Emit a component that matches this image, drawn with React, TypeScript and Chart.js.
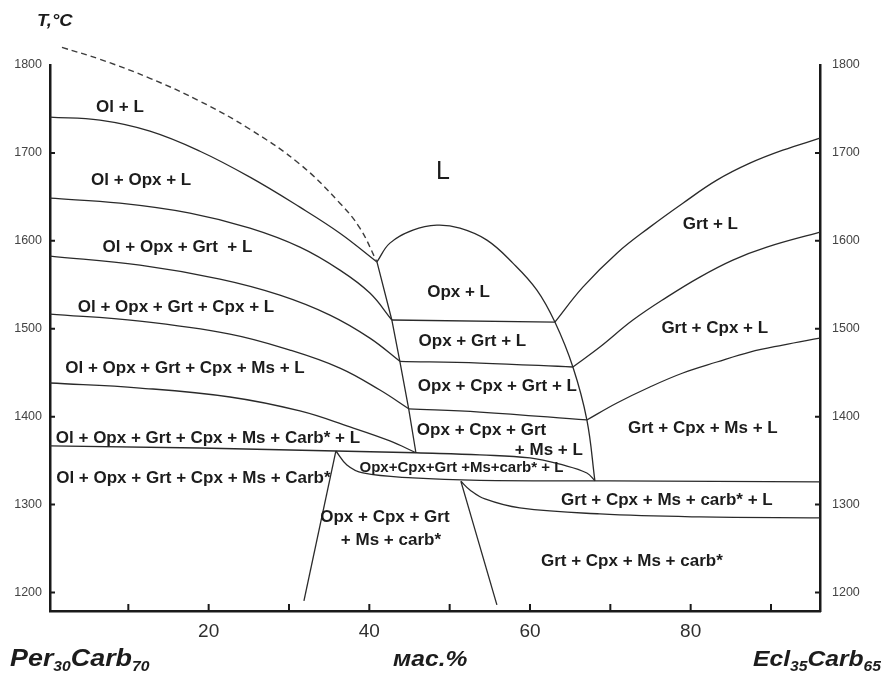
import { useEffect, useRef } from "react";
import { Chart, registerables } from "chart.js";

Chart.register(...registerables);

// Each point is [composition, wt.%; temperature, °C]
type XT = [number, number];

// ---- axes ----
const X_RANGE: XT = [0.25, 96.1];
const T_RANGE: XT = [1179, 1800];
const X_TICKS = [10, 20, 30, 40, 50, 60, 70, 80, 90];
const X_TICK_LABELS = [20, 40, 60, 80];
const T_TICKS = [1200, 1300, 1400, 1500, 1600, 1700, 1800];

// ---- phase boundaries ----
// metastable extension of the olivine liquidus
const olLiquidusMetastable: XT[] = [
  [1.74, 1820], [6.47, 1806.5], [12.69, 1784.9], [18.92, 1758.8], [25.14, 1726.9],
  [31.36, 1687.2], [36.34, 1642.8], [38.83, 1614.4], [40.95, 1576],
];
const olLiquidus: XT[] = [
  [0.25, 1740.6], [6.47, 1737.2], [12.69, 1724.7], [18.92, 1701.9], [25.14, 1672.4],
  [31.36, 1638.3], [36.34, 1608.7], [40.95, 1576],
];
const opxInLeft: XT[] = [
  [0.25, 1648.5], [8.96, 1642.8], [17.67, 1631.5], [25.14, 1614.4], [31.36, 1592.8],
  [36.34, 1566.7], [40.07, 1540.6], [42.8, 1510],
];
const grtInLeft: XT[] = [
  [0.25, 1582.6], [11.45, 1572.4], [21.41, 1556.5], [28.87, 1538.3], [35.1, 1515.6],
  [40.07, 1489.4], [43.8, 1463],
];
const cpxInLeft: XT[] = [
  [0.25, 1516.7], [11.45, 1508.7], [22.65, 1494], [30.12, 1475.8], [36.34, 1455.3],
  [41.32, 1430.3], [44.9, 1409],
];
const msInLeft: XT[] = [
  [0.25, 1438.3], [11.45, 1432.6], [22.65, 1422.4], [31.36, 1406.5], [37.59, 1388.3],
  [42.56, 1372.4], [45.8, 1359],
];
const carbInLeft: XT[] = [
  [0.25, 1366.7], [18.92, 1364.4], [35.84, 1361], [45.8, 1359],
];
const olOut: XT[] = [
  [40.95, 1576], [42.8, 1510], [43.8, 1463], [44.9, 1409], [45.8, 1359],
];
const opxLiquidus: XT[] = [
  [40.95, 1576], [42.56, 1597.4], [45.43, 1612.2], [48.41, 1617.8], [51.28, 1614.4],
  [54.64, 1600.8], [57.87, 1574.7], [60.86, 1544], [63.1, 1507.6], [65.34, 1456.5],
  [67.08, 1396.3], [68.08, 1327],
];
const grtInOpx: XT[] = [[42.8, 1510], [63.1, 1507.6]];
const cpxInOpx: XT[] = [[43.8, 1463], [53.77, 1461], [65.34, 1456.5]];
const msInOpx: XT[] = [[44.9, 1409], [53.77, 1405.3], [67.08, 1396.3]];
const carbInOpx: XT[] = [
  [45.8, 1359], [53.77, 1356.5], [59.99, 1353.1], [64.09, 1345.1], [67.08, 1336], [68.08, 1327],
];
const solidus: XT[] = [
  [35.84, 1361], [37.21, 1345.1], [39.2, 1336], [45.43, 1330.3], [53.77, 1327.5],
  [69.94, 1326.9], [96.08, 1325.8],
];
const olOutSubsolidus: XT[] = [[31.86, 1190.6], [35.84, 1361]];
const opxOutSubsolidus: XT[] = [[51.4, 1326.5], [55.88, 1186]];
const carbSolidusRight: XT[] = [
  [51.4, 1326.5], [52.52, 1316.7], [54.39, 1306.5], [58.74, 1296.3], [68.7, 1289.4],
  [81.14, 1286], [96.08, 1284.9],
];
const grtLiquidus: XT[] = [
  [63.1, 1507.6], [66.58, 1547.4], [70.82, 1586], [74.92, 1615.6], [79.03, 1642.8],
  [83.26, 1669], [87.37, 1688.3], [91.47, 1703.1], [96.08, 1716.7],
];
const cpxInRight: XT[] = [
  [65.34, 1456.5], [68.7, 1479.2], [72.81, 1509.9], [77.04, 1536], [81.14, 1558.8],
  [85.25, 1578.1], [89.48, 1592.8], [96.08, 1609.9],
];
const msInRight: XT[] = [
  [67.08, 1396.3], [70.82, 1415.6], [74.92, 1433.8], [79.03, 1449.7], [83.26, 1462.2],
  [87.37, 1473.5], [91.47, 1481.5], [96.08, 1489.4],
];

const BOUNDARIES: { pts: XT[]; dashed?: boolean; curved?: boolean }[] = [
  { pts: olLiquidusMetastable, dashed: true, curved: true },
  { pts: olLiquidus, curved: true },
  { pts: opxInLeft, curved: true },
  { pts: grtInLeft, curved: true },
  { pts: cpxInLeft, curved: true },
  { pts: msInLeft, curved: true },
  { pts: carbInLeft },
  { pts: olOut },
  { pts: opxLiquidus, curved: true },
  { pts: grtInOpx },
  { pts: cpxInOpx, curved: true },
  { pts: msInOpx, curved: true },
  { pts: carbInOpx, curved: true },
  { pts: solidus, curved: true },
  { pts: olOutSubsolidus },
  { pts: opxOutSubsolidus },
  { pts: carbSolidusRight, curved: true },
  { pts: grtLiquidus, curved: true },
  { pts: cpxInRight, curved: true },
  { pts: msInRight, curved: true },
];

// ---- phase-field names, placed at [wt.%, °C] ----
type FieldKind = "field" | "melt" | "narrow";
const FIELD_LABELS: { text: string; x: number; t: number; kind: FieldKind }[] = [
  { text: "Ol + L", x: 8.96, t: 1752, kind: "field" },
  { text: "L", x: 49.16, t: 1678, kind: "melt" },
  { text: "Ol + Opx + L", x: 11.6, t: 1669, kind: "field" },
  { text: "Ol + Opx + Grt  + L", x: 16.12, t: 1593.2, kind: "field" },
  { text: "Grt + L", x: 82.45, t: 1619, kind: "field" },
  { text: "Ol + Opx + Grt + Cpx + L", x: 15.93, t: 1524.7, kind: "field" },
  { text: "Opx + L", x: 51.11, t: 1542, kind: "field" },
  { text: "Grt + Cpx + L", x: 83.0, t: 1500.5, kind: "field" },
  { text: "Opx + Grt + L", x: 52.83, t: 1485.2, kind: "field" },
  { text: "Ol + Opx + Grt + Cpx + Ms + L", x: 17.05, t: 1455.3, kind: "field" },
  { text: "Opx + Cpx + Grt + L", x: 55.94, t: 1434.1, kind: "field" },
  { text: "Grt + Cpx + Ms + L", x: 81.52, t: 1387.2, kind: "field" },
  { text: "Opx + Cpx + Grt", x: 53.97, t: 1384.9, kind: "field" },
  { text: "+ Ms + L", x: 62.35, t: 1362.2, kind: "field" },
  { text: "Ol + Opx + Grt + Cpx + Ms + Carb* + L", x: 19.91, t: 1375.5, kind: "field" },
  { text: "Ol + Opx + Grt + Cpx + Ms + Carb*", x: 18.1, t: 1330, kind: "field" },
  { text: "Opx+Cpx+Grt +Ms+carb* + L", x: 51.46, t: 1341.4, kind: "narrow" },
  { text: "Grt + Cpx + Ms + carb* + L", x: 77.04, t: 1305.3, kind: "field" },
  { text: "Opx + Cpx + Grt", x: 41.94, t: 1286, kind: "field" },
  { text: "+ Ms + carb*", x: 42.69, t: 1259.9, kind: "field" },
  { text: "Grt + Cpx + Ms + carb*", x: 72.68, t: 1235.2, kind: "field" },
];

// ---- end-member and axis captions ([text, subscript] runs) ----
const LEFT_END_MEMBER: [string, boolean][] = [["Per", false], ["30", true], ["Carb", false], ["70", true]];
const RIGHT_END_MEMBER: [string, boolean][] = [["Ecl", false], ["35", true], ["Carb", false], ["65", true]];
const X_TITLE = "мас.%";
const T_TITLE = "T,°C";

const FAMILY = '"Liberation Sans", Arial, Helvetica, sans-serif';
const INK = "#1c1c1c";

const FIELD_FONT: Record<FieldKind, string> = {
  field: `bold 17px ${FAMILY}`,
  melt: `25px ${FAMILY}`,
  narrow: `bold 15px ${FAMILY}`,
};

function drawRuns(
  ctx: CanvasRenderingContext2D,
  runs: [string, boolean][],
  x: number,
  baseline: number,
  size: number,
  subSize: number,
  stretch: number
) {
  ctx.save();
  ctx.translate(x, baseline);
  ctx.scale(stretch, 1);
  let cx = 0;
  for (const [s, sub] of runs) {
    ctx.font = `italic bold ${sub ? subSize : size}px ${FAMILY}`;
    ctx.fillText(s, cx, sub ? 5 : 0);
    cx += ctx.measureText(s).width;
  }
  ctx.restore();
}

const paperPlugin = {
  id: "paper",
  beforeDraw(chart: any) {
    const { ctx, width, height } = chart;
    ctx.save();
    ctx.fillStyle = "#ffffff";
    ctx.fillRect(0, 0, width, height);
    ctx.restore();
  },
};

// inward tick marks on the three framing axes
const innerTicksPlugin = {
  id: "innerTicks",
  afterDraw(chart: any) {
    const { ctx, chartArea: a, scales } = chart;
    ctx.save();
    ctx.strokeStyle = "#1a1a1a";
    ctx.lineWidth = 2;
    ctx.beginPath();
    for (const t of scales.x.ticks) {
      const px = scales.x.getPixelForValue(t.value);
      ctx.moveTo(px, a.bottom);
      ctx.lineTo(px, a.bottom - 7);
    }
    for (const t of scales.y.ticks) {
      const py = scales.y.getPixelForValue(t.value);
      if (py <= a.top + 1) continue;
      ctx.moveTo(a.left, py);
      ctx.lineTo(a.left + 5, py);
    }
    for (const t of scales.y2.ticks) {
      const py = scales.y2.getPixelForValue(t.value);
      if (py <= a.top + 1) continue;
      ctx.moveTo(a.right, py);
      ctx.lineTo(a.right - 5, py);
    }
    ctx.stroke();
    ctx.restore();
  },
};

const fieldLabelsPlugin = {
  id: "fieldLabels",
  afterDatasetsDraw(chart: any) {
    const { ctx, scales } = chart;
    ctx.save();
    ctx.fillStyle = INK;
    ctx.textAlign = "center";
    ctx.textBaseline = "middle";
    for (const f of FIELD_LABELS) {
      ctx.font = FIELD_FONT[f.kind];
      ctx.fillText(f.text, scales.x.getPixelForValue(f.x), scales.y.getPixelForValue(f.t));
    }
    ctx.restore();
  },
};

const captionsPlugin = {
  id: "captions",
  afterDraw(chart: any) {
    const { ctx } = chart;
    ctx.save();
    ctx.fillStyle = INK;
    ctx.textAlign = "left";
    ctx.textBaseline = "alphabetic";
    drawRuns(ctx, [[T_TITLE, false]], 37, 26, 16, 16, 1.15);
    drawRuns(ctx, LEFT_END_MEMBER, 10, 666, 24, 14, 1.12);
    drawRuns(ctx, [[X_TITLE, false]], 393, 666, 22, 14, 1.12);
    drawRuns(ctx, RIGHT_END_MEMBER, 753, 666, 22, 14, 1.12);
    ctx.restore();
  },
};

export default function App() {
  const ref = useRef<HTMLCanvasElement | null>(null);

  useEffect(() => {
    const canvas = ref.current;
    if (!canvas) return;

    const frame = { display: true, color: "#1a1a1a", width: 2.5 };
    const hiddenGrid = { display: false, drawTicks: false, drawOnChartArea: false };

    const chart = new Chart(canvas, {
      type: "scatter",
      data: {
        datasets: BOUNDARIES.map((b) => ({
          data: b.pts.map(([x, t]) => ({ x, y: t })),
          showLine: true,
          borderColor: b.dashed ? "#3c3c3c" : "#2a2a2a",
          borderWidth: b.dashed ? 1.4 : 1.3,
          borderDash: b.dashed ? [6, 4] : [],
          pointRadius: 0,
          pointHoverRadius: 0,
          fill: false,
          tension: b.curved ? 0.4 : 0,
          capBezierPoints: false,
          clip: false,
        })) as any,
      },
      options: {
        animation: false,
        responsive: false,
        maintainAspectRatio: false,
        events: [],
        layout: { padding: { top: 65, left: 0, right: 0, bottom: 0 } },
        plugins: {
          legend: { display: false },
          tooltip: { enabled: false },
          title: { display: false },
        },
        scales: {
          x: {
            type: "linear",
            position: "bottom",
            min: X_RANGE[0],
            max: X_RANGE[1],
            afterBuildTicks: (s: any) => {
              s.ticks = X_TICKS.map((v) => ({ value: v }));
            },
            afterFit: (s: any) => {
              s.height = 64;
            },
            grid: hiddenGrid,
            border: frame,
            ticks: {
              autoSkip: false,
              maxRotation: 0,
              padding: 9,
              color: "#2e2e2e",
              font: { family: FAMILY, size: 19 },
              callback: (v: any) => (X_TICK_LABELS.includes(Number(v)) ? String(v) : ""),
            },
          },
          y: {
            type: "linear",
            position: "left",
            min: T_RANGE[0],
            max: T_RANGE[1],
            afterBuildTicks: (s: any) => {
              s.ticks = T_TICKS.map((v) => ({ value: v }));
            },
            afterFit: (s: any) => {
              s.width = 50;
            },
            grid: hiddenGrid,
            border: frame,
            ticks: {
              padding: 8,
              color: "#444",
              font: { family: FAMILY, size: 12.5 },
              callback: (v: any) => String(v),
            },
          },
          y2: {
            type: "linear",
            position: "right",
            min: T_RANGE[0],
            max: T_RANGE[1],
            afterBuildTicks: (s: any) => {
              s.ticks = T_TICKS.map((v) => ({ value: v }));
            },
            afterFit: (s: any) => {
              s.width = 61;
            },
            grid: hiddenGrid,
            border: frame,
            ticks: {
              padding: 12,
              color: "#444",
              font: { family: FAMILY, size: 12.5 },
              callback: (v: any) => String(v),
            },
          },
        },
      } as any,
      plugins: [paperPlugin, innerTicksPlugin, fieldLabelsPlugin, captionsPlugin],
    });

    return () => chart.destroy();
  }, []);

  return (
    <div style={{ position: "absolute", left: 0, top: 0, width: 881, height: 675, background: "#fff" }}>
      <canvas ref={ref} width={881} height={675} style={{ display: "block" }} />
    </div>
  );
}
